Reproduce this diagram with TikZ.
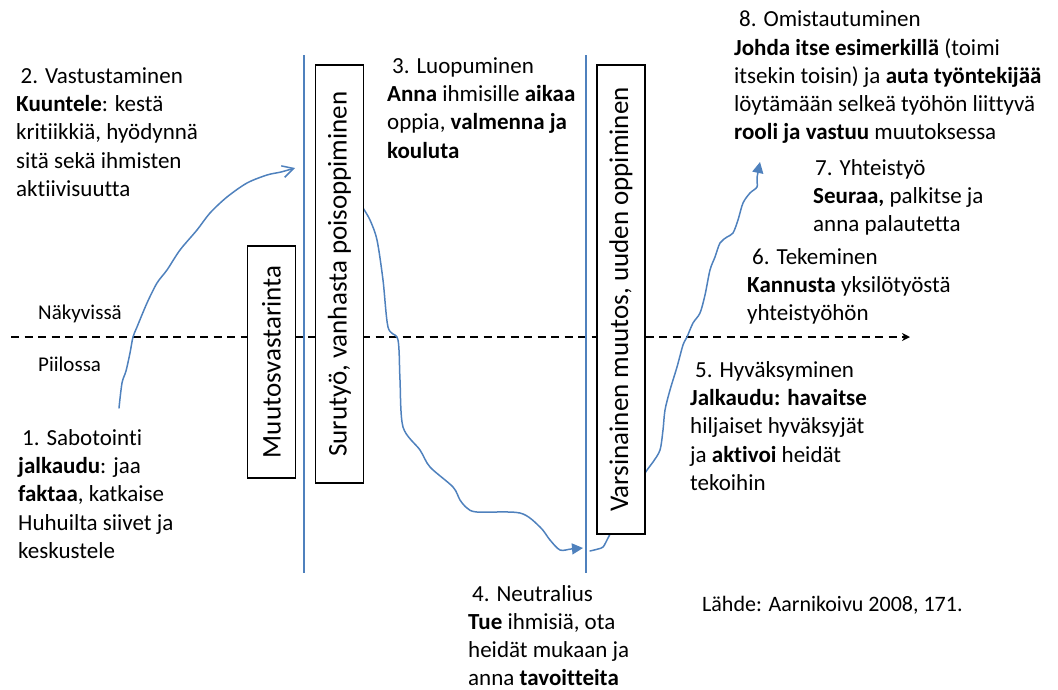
\documentclass[tikz,border=0pt]{standalone}
\usepackage{fontspec}
\setmainfont{Carlito}[Ligatures=NoCommon]
\usetikzlibrary{arrows.meta}
\definecolor{lineblue}{RGB}{79,129,189}

\begin{document}
\begin{tikzpicture}[x=1pt,y=-1pt,
  txt/.style={anchor=north west,inner sep=0pt,align=left,font=\fontsize{23}{28.3}\selectfont},
  side/.style={anchor=base west,inner sep=0pt,font=\fontsize{21}{25}\selectfont},
  phase/.style={draw,line width=1.8pt,fill=white,rotate=90,inner sep=0pt,minimum height=48pt,font=\fontsize{27}{32}\selectfont},
  wall/.style={lineblue,line width=1.5pt},
  curve/.style={lineblue,line width=1.5pt,line cap=round,line join=round}]
\useasboundingbox (0,0) rectangle (1058,689);

% vaiheet
\node[txt] (sabotointi) at (18,425.2) {\strut\hspace*{4pt}1. Sabotointi\\\textbf{jalkaudu}: jaa\\\textbf{faktaa}, katkaise\\Huhuilta siivet ja\\keskustele};
\node[txt] (vastustus) at (16,63.2) {\strut\hspace*{4.5pt}2. Vastustaminen\\\textbf{Kuuntele}: kestä\\kritiikkiä, hyödynnä\\sitä sekä ihmisten\\aktiivisuutta};
\node[txt] (luopuminen) at (387,53.2) {\strut\hspace*{5pt}3. Luopuminen\\\textbf{Anna} ihmisille \textbf{aikaa}\\oppia, \textbf{valmenna ja}\\\textbf{kouluta}};
\node[txt] (neutralius) at (468,581) {\strut\hspace*{4pt}4. Neutralius\\\textbf{Tue} ihmisiä, ota\\heidät mukaan ja\\anna \textbf{tavoitteita}};
\node[txt] (hyvaksyminen) at (690,357.2) {\strut\hspace*{5pt}5. Hyväksyminen\\\textbf{Jalkaudu: havaitse}\\hiljaiset hyväksyjät\\ja \textbf{aktivoi} heidät\\tekoihin};
\node[txt] (tekeminen) at (747,244.2) {\strut\hspace*{5pt}6. Tekeminen\\\textbf{Kannusta} yksilötyöstä\\yhteistyöhön};
\node[txt] (yhteistyo) at (813,155.2) {\strut\hspace*{2pt}7. Yhteistyö\\\textbf{Seuraa,} palkitse ja\\anna palautetta};
\node[txt] (omistautuminen) at (734,6.7) {\strut\hspace*{5pt}8. Omistautuminen\\\textbf{Johda itse esimerkillä} (toimi\\itsekin toisin) ja \textbf{auta työntekijää}\\löytämään selkeä työhön liittyvä\\\textbf{rooli ja vastuu} muutoksessa};
\node[side] (nakyvissa) at (38,319) {Näkyvissä};
\node[side] (piilossa) at (38,371) {Piilossa};
\node[side,font=\fontsize{22}{26}\selectfont] (lahde) at (702,611) {Lähde: Aarnikoivu 2008, 171.};

% raja ja seinat
\coordinate (rajaA) at (11,337);
\coordinate (rajaB) at (910,337);
\draw[line width=1.5pt,dash pattern=on 8pt off 5.5pt,-{Stealth[length=8pt,width=8pt,inset=2.5pt]}] (rajaA) -- (rajaB);
\coordinate (seina1a) at (304,55);
\coordinate (seina1b) at (304,573);
\coordinate (seina2a) at (586,55);
\coordinate (seina2b) at (586,573);
\draw[wall] (seina1a) -- (seina1b);
\draw[wall] (seina2a) -- (seina2b);

% kayra
\coordinate (k1a) at (119,408);
\coordinate (k1b) at (295,168);
\coordinate (k2a) at (363,208);
\coordinate (k2b) at (583,548);
\coordinate (k3a) at (590,551);
\coordinate (k3b) at (760,162);
\draw[curve,-{Straight Barb[length=11pt,width=12pt]}] plot[smooth,tension=0.5] coordinates {(k1a) (122,383) (126,371) (130,353) (133,337) (137,327) (147,303) (157,283) (167,270) (180,250) (197,230) (210,213) (227,197) (247,183) (267,175) (281,172) (k1b)};
\draw[curve,-{Triangle[length=11pt,width=11pt]}] plot[smooth,tension=0.5] coordinates {(k2a) (370,220) (377,240) (383,280) (388,327) (397,337) (399,350) (400,380) (403,427) (420,450) (430,467) (453,487) (460,500) (467,508) (477,512) (520,513) (540,527) (550,540) (560,550) (571,549) (k2b)};
\draw[curve,-{Triangle[length=11pt,width=11pt]}] plot[smooth,tension=0.5] coordinates {(k3a) (598,549) (603,547) (607,540) (625,505) (645,473) (653,462) (660,450) (663,430) (665,410) (670,390) (677,367) (683,345) (687,337) (693,323) (700,313) (705,295) (710,270) (715,257) (720,243) (727,237) (733,233) (738,220) (743,203) (750,193) (757,187) (757,178) (k3b)};

% laatikot
\node[phase,minimum width=232pt] (muutosvastarinta) at (271.5,362) {Muutosvastarinta};
\node[phase,minimum width=418pt] (surutyo) at (339.5,274) {Surutyö, vanhasta poisoppiminen};
\node[phase,minimum width=469pt] (varsinainen) at (621,299.5) {Varsinainen muutos, uuden oppiminen};
\end{tikzpicture}
\end{document}
